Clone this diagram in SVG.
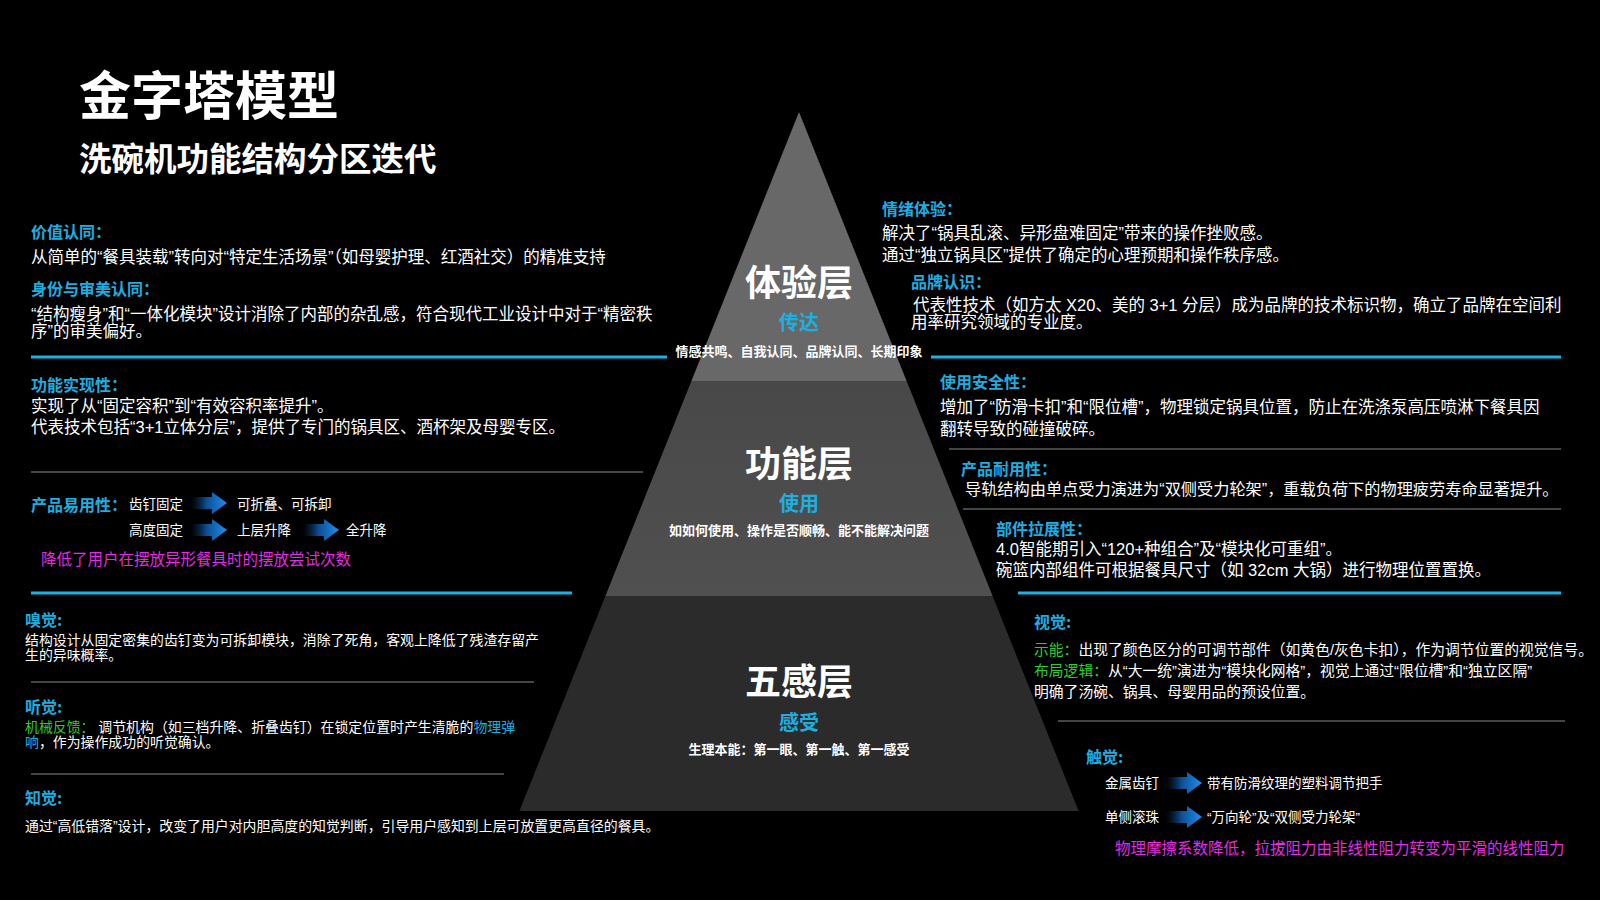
<svg xmlns="http://www.w3.org/2000/svg" width="1600" height="900" viewBox="0 0 1600 900">
<defs>
<linearGradient id="arrowGrad" x1="0" y1="0" x2="1" y2="0">
<stop offset="0" stop-color="#0a2440" stop-opacity="0"/>
<stop offset="0.45" stop-color="#0d4f94"/>
<stop offset="1" stop-color="#1f8ef0"/>
</linearGradient>
<linearGradient id="midGrad" x1="0" y1="0" x2="0" y2="1">
<stop offset="0" stop-color="#484848"/>
<stop offset="1" stop-color="#505050"/>
</linearGradient>
<path id="arrow" d="M0,-6 H22 V-11 L37,0 L22,11 V6 H0 Z" fill="url(#arrowGrad)"/>
<style>
text{font-family:"Noto Sans CJK SC","Noto Sans",sans-serif;dominant-baseline:central;}
.t1{fill:#fff;font-size:52px;font-weight:700;}
.t2{fill:#fff;font-size:32.5px;font-weight:700;}
.h{fill:#1eaee0;font-size:16px;font-weight:700;}
.b{fill:#fff;font-size:16.5px;font-family:"Liberation Sans","Noto Sans CJK SC",sans-serif;}
.s{fill:#fff;font-size:13.9px;font-family:"Liberation Sans","Noto Sans CJK SC",sans-serif;}
.a{fill:#fff;font-size:13.5px;font-family:"Liberation Sans","Noto Sans CJK SC",sans-serif;}
.r{fill:#fff;font-size:14.8px;font-family:"Liberation Sans","Noto Sans CJK SC",sans-serif;}
.g{fill:#2ecc2e;}
.c{fill:#1eaee0;}
.m{fill:#e02ee0;font-size:15.5px;}
.lay{fill:#fff;font-size:36px;font-weight:700;text-anchor:middle;}
.sub{fill:#1eaee0;font-size:20px;font-weight:700;text-anchor:middle;}
.desc{fill:#fff;font-size:13px;font-weight:700;text-anchor:middle;}
.cl{stroke:#19b2e4;stroke-width:3;}
.gl{stroke:#8a8a8a;stroke-width:1.2;}
</style>
</defs>
<rect width="1600" height="900" fill="#000"/>

<g id="title">
<text class="t1" x="79" y="92">金字塔模型</text>
<text class="t2" x="79" y="156">洗碗机功能结构分区迭代</text>
</g>

<g id="pyramid">
<g id="layer-experience">
<polygon points="799,112 906.6,381 691.4,381" fill="#686868"/>
<text class="lay" x="799" y="280">体验层</text>
<text class="sub" x="799" y="321">传达</text>
<text class="desc" x="799" y="350">情感共鸣、自我认同、品牌认同、长期印象</text>
</g>
<g id="layer-function">
<polygon points="691.4,381 906.6,381 992.6,596 605.4,596" fill="url(#midGrad)"/>
<text class="lay" x="799" y="461">功能层</text>
<text class="sub" x="799" y="502">使用</text>
<text class="desc" x="799" y="529">如如何使用、操作是否顺畅、能不能解决问题</text>
</g>
<g id="layer-senses">
<polygon points="605.4,596 992.6,596 1078.6,811 519.4,811" fill="#2b2b2b"/>
<text class="lay" x="799" y="679">五感层</text>
<text class="sub" x="799" y="721">感受</text>
<text class="desc" x="799" y="748">生理本能：第一眼、第一触、第一感受</text>
</g>
</g>

<g id="separators">
<line class="cl" x1="31" y1="357" x2="667" y2="357"/>
<line class="gl" x1="31" y1="472" x2="643" y2="472"/>
<line class="cl" x1="31" y1="593" x2="572" y2="593"/>
<line class="gl" x1="31" y1="682" x2="534" y2="682"/>
<line class="gl" x1="31" y1="774" x2="504" y2="774"/>
<line class="cl" x1="931" y1="357" x2="1561" y2="357"/>
<line class="gl" x1="949" y1="449" x2="1561" y2="449"/>
<line class="gl" x1="963" y1="509" x2="1561" y2="509"/>
<line class="cl" x1="1018" y1="593" x2="1561" y2="593"/>
<line class="gl" x1="1058" y1="721" x2="1565" y2="721"/>
</g>

<g id="value-identity">
<text class="h" x="31" y="231">价值认同：</text>
<text class="b" x="31" y="257">从简单的“餐具装载”转向对“特定生活场景”（如母婴护理、红酒社交）的精准支持</text>
</g>
<g id="aesthetic-identity">
<text class="h" x="31" y="288">身份与审美认同：</text>
<text class="b" x="31" y="314">“结构瘦身”和“一体化模块”设计消除了内部的杂乱感，符合现代工业设计中对于“精密秩</text>
<text class="b" x="31" y="331">序”的审美偏好。</text>
</g>
<g id="function-realization">
<text class="h" x="31" y="384">功能实现性：</text>
<text class="b" x="31" y="406">实现了从“固定容积”到“有效容积率提升”。</text>
<text class="b" x="31" y="427">代表技术包括“3+1立体分层”，提供了专门的锅具区、酒杯架及母婴专区。</text>
</g>
<g id="usability">
<text class="h" x="31" y="504">产品易用性：</text>
<text class="a" x="129" y="504">齿钉固定</text>
<text class="a" x="237" y="504">可折叠、可拆卸</text>
<text class="a" x="129" y="530">高度固定</text>
<text class="a" x="237" y="530">上层升降</text>
<text class="a" x="346" y="530">全升降</text>
<text class="m" x="41" y="558">降低了用户在摆放异形餐具时的摆放尝试次数</text>
</g>
<g id="smell">
<text class="h" x="25" y="619">嗅觉:</text>
<text class="s" x="25" y="640">结构设计从固定密集的齿钉变为可拆卸模块，消除了死角，客观上降低了残渣存留产</text>
<text class="s" x="25" y="655">生的异味概率。</text>
</g>
<g id="hearing">
<text class="h" x="25" y="706">听觉:</text>
<text class="s" x="25" y="727"><tspan class="g">机械反馈：</tspan> 调节机构（如三档升降、折叠齿钉）在锁定位置时产生清脆的<tspan class="c">物理弹</tspan></text>
<text class="s" x="25" y="742"><tspan class="c">响</tspan>，作为操作成功的听觉确认。</text>
</g>
<g id="perception">
<text class="h" x="25" y="797">知觉:</text>
<text class="s" x="25" y="826">通过“高低错落”设计，改变了用户对内胆高度的知觉判断，引导用户感知到上层可放置更高直径的餐具。</text>
</g>

<g id="emotion">
<text class="h" x="882" y="208">情绪体验：</text>
<text class="b" x="882" y="233">解决了“锅具乱滚、异形盘难固定”带来的操作挫败感。</text>
<text class="b" x="882" y="255">通过“独立锅具区”提供了确定的心理预期和操作秩序感。</text>
</g>
<g id="brand">
<text class="h" x="911" y="281">品牌认识：</text>
<text class="b" x="913" y="305">代表性技术（如方太 X20、美的 3+1 分层）成为品牌的技术标识物，确立了品牌在空间利</text>
<text class="b" x="911" y="322">用率研究领域的专业度。</text>
</g>
<g id="safety">
<text class="h" x="940" y="381">使用安全性：</text>
<text class="b" x="940" y="407">增加了“防滑卡扣”和“限位槽”，物理锁定锅具位置，防止在洗涤泵高压喷淋下餐具因</text>
<text class="b" x="940" y="429">翻转导致的碰撞破碎。</text>
</g>
<g id="durability">
<text class="h" x="961" y="468">产品耐用性：</text>
<text class="b" x="965" y="489" style="font-size:16.2px">导轨结构由单点受力演进为“双侧受力轮架”，重载负荷下的物理疲劳寿命显著提升。</text>
</g>
<g id="extensibility">
<text class="h" x="996" y="528">部件拉展性：</text>
<text class="b" x="996" y="549">4.0智能期引入“120+种组合”及“模块化可重组”。</text>
<text class="b" x="996" y="570">碗篮内部组件可根据餐具尺寸（如 32cm 大锅）进行物理位置置换。</text>
</g>
<g id="vision">
<text class="h" x="1034" y="621">视觉:</text>
<text class="r" x="1034" y="650"><tspan class="g">示能：</tspan>出现了颜色区分的可调节部件（如黄色/灰色卡扣），作为调节位置的视觉信号。</text>
<text class="r" x="1034" y="671"><tspan class="g">布局逻辑：</tspan>从“大一统”演进为“模块化网格”，视觉上通过“限位槽”和“独立区隔”</text>
<text class="r" x="1034" y="692">明确了汤碗、锅具、母婴用品的预设位置。</text>
</g>
<g id="touch">
<text class="h" x="1086" y="756">触觉:</text>
<text class="a" x="1105" y="783">金属齿钉</text>
<text class="a" x="1207" y="783">带有防滑纹理的塑料调节把手</text>
<text class="a" x="1105" y="817">单侧滚珠</text>
<text class="a" x="1207" y="817">“万向轮”及“双侧受力轮架”</text>
<text class="m" x="1115" y="847">物理摩擦系数降低，拉拔阻力由非线性阻力转变为平滑的线性阻力</text>
</g>

<g id="connectors">
<use href="#arrow" x="190" y="503"/>
<use href="#arrow" x="190" y="530"/>
<use href="#arrow" x="302" y="530"/>
<use href="#arrow" x="1165" y="783"/>
<use href="#arrow" x="1165" y="817"/>
</g>
</svg>
